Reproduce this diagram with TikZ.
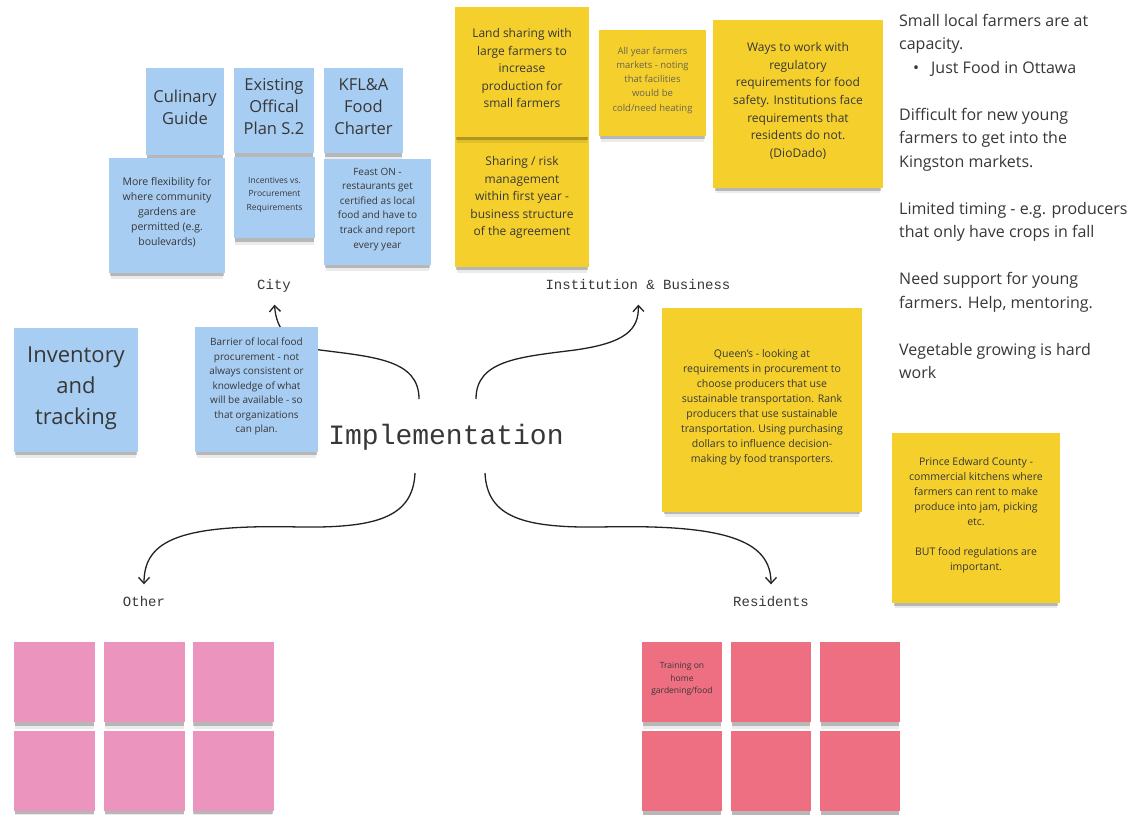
\documentclass[tikz,border=0pt]{standalone}
\usepackage{fontspec}
\setmainfont{Open Sans}
\newfontfamily\monofont{Liberation Mono}
\usetikzlibrary{arrows.meta,shadows}
\definecolor{stickyblue}{RGB}{168,205,243}
\definecolor{stickyyellow}{RGB}{245,208,45}
\definecolor{stickypink}{RGB}{234,148,190}
\definecolor{stickyred}{RGB}{239,111,130}
\definecolor{inkgrey}{RGB}{55,55,55}
\definecolor{fadedgrey}{RGB}{105,100,80}
\definecolor{linegrey}{RGB}{34,34,34}
\newcommand{\fsz}[2]{\fontsize{#1}{#2}\selectfont}
\tikzset{
  sticky/.style={rectangle,inner sep=2pt,align=center,text=inkgrey,text depth=8pt,
    drop shadow={shadow xshift=0pt,shadow yshift=-8pt,shadow scale=0.97,opacity=0.08,fill=black},
    drop shadow={shadow xshift=0pt,shadow yshift=-4.5pt,shadow scale=0.98,opacity=0.22,fill=black}},
  bluenote/.style={sticky,fill=stickyblue},
  yellownote/.style={sticky,fill=stickyyellow},
  pinknote/.style={sticky,fill=stickypink,minimum width=81pt,minimum height=80pt},
  rednote/.style={sticky,fill=stickyred,minimum width=80pt,minimum height=80pt},
  branch/.style={font=\monofont\fsz{14}{16},text=inkgrey,inner sep=2pt,text height=10pt,text depth=3pt},
  twig/.style={draw=linegrey,line width=1.3pt,-{Straight Barb[length=6pt,width=11pt]},shorten >=10pt}
}
\begin{document}
\begin{tikzpicture}[x=1pt,y=-1pt]
  \fill[white] (0,0) rectangle (1145,814);
  \useasboundingbox (0,0) rectangle (1145,814);

  \node[font=\monofont\fsz{28}{32},text=inkgrey] (impl) at (446,437) {Implementation};
  \node[branch] (city) at (274,286) {City};
  \node[branch] (institution) at (638,286) {Institution \& Business};
  \node[branch] (other) at (144,603) {Other};
  \node[branch] (residents) at (771,603) {Residents};

  \coordinate (tocity) at ([shift={(-27,-38)}]impl.center);
  \coordinate (toinstitution) at ([shift={(30,-38)}]impl.center);
  \coordinate (toother) at ([shift={(-31,36)}]impl.center);
  \coordinate (toresidents) at ([shift={(39,36)}]impl.center);

  \draw[twig] (tocity) .. controls (419,360) and (375,357) .. (320,350)
    .. controls (290,346) and (276,330) .. (city.south);
  \draw[twig] (toinstitution) .. controls (476,360) and (520,357) .. (575,350)
    .. controls (625,343) and (639,330) .. (institution.south);
  \draw[twig] (toother) .. controls (413,518) and (375,528) .. (300,527)
    .. controls (180,524) and (144,540) .. (other.north);
  \draw[twig] (toresidents) .. controls (487,518) and (525,528) .. (600,527)
    .. controls (725,524) and (771,540) .. (residents.north);

  \node[bluenote,minimum width=78pt,minimum height=87pt,font=\fsz{16.5}{22}] (culinary) at (185,111.5) {Culinary\\Guide};
  \node[bluenote,minimum width=80pt,minimum height=85pt,font=\fsz{16.5}{22}] (plan) at (274,110.5) {Existing\\Offical\\Plan S.2};
  \node[bluenote,minimum width=79pt,minimum height=85pt,font=\fsz{16.5}{22}] (charter) at (363.5,110.5) {KFL\&A\\Food\\Charter};
  \node[bluenote,minimum width=116pt,minimum height=115pt,font=\fsz{10.5}{15}] (gardens) at (167,215.5) {More flexibility for\\where community\\gardens are\\permitted (e.g.\\boulevards)};
  \node[bluenote,minimum width=81pt,minimum height=81pt,font=\fsz{8.5}{13.5}] (incentives) at (274.5,197.5) {Incentives vs.\\Procurement\\Requirements};
  \node[bluenote,minimum width=107pt,minimum height=106pt,font=\fsz{10}{14.6}] (feast) at (377.5,212) {Feast ON -\\restaurants get\\certified as local\\food and have to\\track and report\\every year};
  \node[bluenote,minimum width=124pt,minimum height=124pt,font=\fsz{22}{31}] (inventory) at (76,390) {Inventory\\and\\tracking};
  \node[bluenote,minimum width=123pt,minimum height=125pt,font=\fsz{10}{14.5}] (barrier) at (256.5,389.5) {Barrier of local food\\procurement - not\\always consistent or\\knowledge of what\\will be available - so\\that organizations\\can plan.};

  \node[yellownote,minimum width=134pt,minimum height=134pt,font=\fsz{12}{17.5}] (risk) at (522,200) {Sharing / risk\\management\\within first year -\\business structure\\of the agreement};
  \node[yellownote,minimum width=134pt,minimum height=130pt,font=\fsz{12}{17.5}] (landshare) at (522,72) {Land sharing with\\large farmers to\\increase\\production for\\small farmers};
  \node[yellownote,minimum width=107pt,minimum height=106pt,font=\fsz{9.5}{14.3},text=fadedgrey] (markets) at (652.5,83) {All year farmers\\markets - noting\\that facilities\\would be\\cold/need heating};
  \node[yellownote,minimum width=170pt,minimum height=168pt,font=\fsz{12}{17.7}] (regulatory) at (798,104) {Ways to work with\\regulatory\\requirements for food\\safety. Institutions face\\requirements that\\residents do not.\\(DioDado)};
  \node[yellownote,minimum width=200pt,minimum height=204pt,font=\fsz{10.5}{15}] (queens) at (762,410) {Queen's - looking at\\requirements in procurement to\\choose producers that use\\sustainable transportation. Rank\\producers that use sustainable\\transportation. Using purchasing\\dollars to influence decision-\\making by food transporters.};
  \node[yellownote,minimum width=168pt,minimum height=170pt,font=\fsz{10.5}{15}] (pec) at (976,518) {Prince Edward County -\\commercial kitchens where\\farmers can rent to make\\produce into jam, picking\\etc.\\[15pt]BUT food regulations are\\important.};

  \node[pinknote] (other1) at (54.5,682) {};
  \node[pinknote] (other2) at (144.5,682) {};
  \node[pinknote] (other3) at (233,682) {};
  \node[pinknote] (other4) at (54.5,770.5) {};
  \node[pinknote] (other5) at (144.5,770.5) {};
  \node[pinknote] (other6) at (233,770.5) {};

  \node[rednote,font=\fsz{8.5}{12.5}] (res1) at (682,682) {Training on\\home\\gardening/food};
  \node[rednote] (res2) at (771,682) {};
  \node[rednote] (res3) at (860,682) {};
  \node[rednote] (res4) at (682,771) {};
  \node[rednote] (res5) at (771,771) {};
  \node[rednote] (res6) at (860,771) {};

  \node[anchor=north west,inner sep=0pt,align=left,text=inkgrey,font=\fsz{16}{23.5}] (farmers) at (899,14)
    {Small local farmers are at\\capacity.\\\hspace*{14pt}\textbullet\hspace{12pt}Just Food in Ottawa\\[23.5pt]
     Difficult for new young\\farmers to get into the\\Kingston markets.\\[23.5pt]
     Limited timing - e.g. producers\\that only have crops in fall\\[23.5pt]
     Need support for young\\farmers. Help, mentoring.\\[23.5pt]
     Vegetable growing is hard\\work};
\end{tikzpicture}
\end{document}
